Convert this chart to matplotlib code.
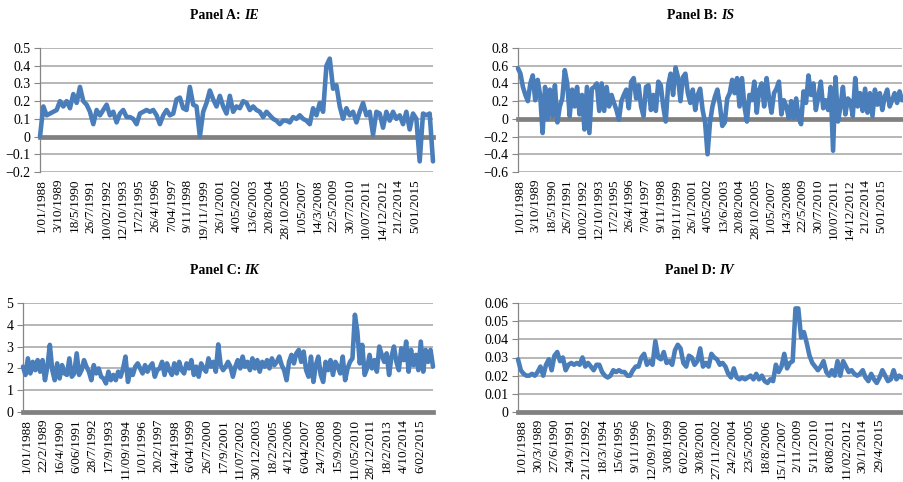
import numpy as np
import matplotlib.pyplot as plt

plt.rcParams["font.family"] = ["Liberation Serif", "DejaVu Serif"]

# series (one value per step along the x axis)
ie_values = [
    0.0, 0.17, 0.12, 0.13, 0.14, 0.15, 0.20, 0.17, 0.20, 0.16, 0.24, 0.19, 0.28, 0.20, 0.18,
    0.14, 0.07, 0.15, 0.12, 0.15, 0.18, 0.12, 0.14, 0.08, 0.13, 0.15, 0.11, 0.11, 0.10, 0.07,
    0.13, 0.14, 0.15, 0.14, 0.15, 0.12, 0.07, 0.12, 0.15, 0.12, 0.13, 0.21, 0.22, 0.16, 0.15,
    0.28, 0.18, 0.17, 0.0, 0.14, 0.19, 0.26, 0.21, 0.17, 0.23, 0.17, 0.13, 0.23, 0.14, 0.17,
    0.16, 0.20, 0.19, 0.15, 0.17, 0.15, 0.14, 0.11, 0.14, 0.12, 0.10, 0.09, 0.07, 0.09, 0.09,
    0.08, 0.11, 0.10, 0.12, 0.10, 0.09, 0.07, 0.16, 0.12, 0.19, 0.14, 0.40, 0.44, 0.27, 0.29,
    0.17, 0.10, 0.16, 0.12, 0.14, 0.08, 0.14, 0.19, 0.12, 0.14, 0.01, 0.14, 0.13, 0.05, 0.14,
    0.09, 0.14, 0.10, 0.12, 0.07, 0.14, 0.04, 0.13, 0.10, -0.14, 0.13, 0.12, 0.13, -0.14,
]
is_values = [
    0.57, 0.51, 0.36, 0.27, 0.20, 0.40, 0.49, 0.21, 0.44, 0.27, -0.16, 0.36, 0.00, 0.33, 0.03,
    0.38, -0.04, 0.14, 0.23, 0.55, 0.40, 0.03, 0.33, 0.14, 0.36, 0.05, 0.27, -0.12, 0.36, -0.16,
    0.34, 0.36, 0.40, 0.09, 0.40, 0.09, 0.36, 0.14, 0.27, 0.18, 0.10, -0.01, 0.20, 0.27, 0.33,
    0.12, 0.42, 0.46, 0.23, 0.38, 0.14, 0.03, 0.36, 0.38, 0.10, 0.27, 0.09, 0.42, 0.38, 0.14,
    -0.03, 0.38, 0.51, 0.27, 0.58, 0.47, 0.20, 0.47, 0.51, 0.29, 0.18, 0.33, 0.10, 0.27, 0.34,
    0.10, -0.04, -0.40, -0.04, 0.14, 0.25,
    0.33, 0.16, -0.08, -0.04, 0.23, 0.29, 0.44, 0.29, 0.46, 0.14, 0.46, 0.14, -0.03, 0.27, 0.21,
    0.42, 0.07, 0.33, 0.40, 0.14, 0.46, 0.23, 0.07, 0.29, 0.34, 0.42, 0.05, 0.21, 0.14, 0.01,
    0.20, 0.01, 0.23, 0.01, -0.06, 0.31, 0.18, 0.49, 0.27, 0.40, 0.10, 0.25, 0.42, 0.12, 0.21,
    0.10, 0.36, -0.36, 0.47, -0.03, 0.14, 0.36, 0.05, 0.23, 0.20, 0.03, 0.46, 0.14, 0.29, 0.09,
    0.34, 0.07, 0.29, 0.03, 0.33, 0.16, 0.29, 0.10, 0.25, 0.33, 0.14, 0.21, 0.29, 0.18, 0.31, 0.21,
]
ik_values = [
    2.08, 1.70, 2.46, 1.77, 2.30, 1.92, 2.38, 1.85, 2.38, 1.46, 2.08, 3.08, 1.92, 1.46, 2.23,
    1.54, 2.15, 1.77, 1.70, 2.46, 1.62, 1.77, 2.69, 1.70, 1.92, 2.38, 2.08, 1.85, 1.46, 2.15,
    1.77, 2.00, 1.62, 1.54, 1.31, 1.85, 1.46, 1.70, 1.46, 1.85, 1.62, 2.00, 2.54, 1.38, 1.92,
    1.70, 2.08, 2.23, 2.00, 1.77, 2.15, 1.85, 2.08, 2.23, 1.62, 1.92, 2.00, 2.30, 1.70, 2.23,
    1.92, 1.70, 2.23, 1.77, 2.30, 1.92, 1.77, 2.23, 2.00, 2.38, 1.70, 2.08, 1.62, 2.23, 2.00,
    1.85, 2.46, 2.08, 2.30, 1.85, 3.10, 2.15, 1.92, 2.08, 2.30, 2.08, 1.62, 2.08, 2.38, 2.00,
    2.54, 2.08, 2.30, 1.92, 2.46, 2.00, 2.38, 1.85, 2.30, 2.08, 2.38, 2.00, 2.46, 2.15, 2.30,
    2.54, 2.15, 1.92, 1.46, 2.30, 2.62, 2.23, 2.69, 2.85, 2.30, 2.77, 1.92, 1.62, 2.54, 1.38,
    2.15, 2.54, 1.70, 1.38, 2.30, 1.92, 2.38, 1.70, 2.30, 2.08, 1.77, 2.54, 1.46, 2.00, 2.30,
    2.46, 4.46, 3.69, 2.23, 3.08, 1.70, 2.00, 2.62, 2.00, 2.38, 1.85, 3.00, 2.62, 2.30, 2.69,
    1.70, 2.54, 3.00, 2.30, 1.92, 2.92, 2.38, 3.23, 1.85, 2.85, 2.15, 2.62, 1.92, 3.23, 1.85,
    2.85, 2.30, 2.85, 2.08,
]
iv_values = [
    0.029, 0.023, 0.021, 0.020, 0.020, 0.021, 0.020, 0.022, 0.025, 0.020, 0.026, 0.029, 0.023,
    0.031, 0.033, 0.028, 0.030, 0.023, 0.026, 0.027, 0.026, 0.027, 0.026, 0.030, 0.025, 0.027,
    0.025, 0.023, 0.026, 0.026, 0.022, 0.020, 0.019, 0.020, 0.023, 0.022, 0.023, 0.022, 0.022,
    0.020, 0.020, 0.023, 0.025, 0.025, 0.030, 0.032, 0.026, 0.028, 0.026, 0.039, 0.030, 0.029,
    0.033, 0.027, 0.028, 0.026, 0.034, 0.037, 0.035, 0.027, 0.025, 0.031, 0.030, 0.026, 0.028,
    0.035, 0.025, 0.027, 0.025, 0.032, 0.030, 0.029, 0.026, 0.027, 0.025, 0.021, 0.019, 0.024,
    0.019, 0.018, 0.019, 0.018, 0.019, 0.020, 0.018, 0.021, 0.018, 0.020, 0.017, 0.016, 0.018,
    0.017, 0.026, 0.022, 0.025, 0.032, 0.024, 0.027, 0.028, 0.057, 0.057, 0.041, 0.044, 0.038,
    0.031, 0.027, 0.025, 0.023, 0.025, 0.028, 0.022, 0.020, 0.023, 0.020, 0.028, 0.020, 0.028,
    0.025, 0.022, 0.023, 0.021, 0.020, 0.021, 0.023, 0.019, 0.017, 0.021, 0.018, 0.016, 0.019,
    0.023, 0.020, 0.017, 0.018, 0.023, 0.018, 0.020, 0.019,
]

labels_ab = [
    "1/01/1988", "3/10/1989", "18/5/1990", "26/7/1991", "10/02/1992", "12/10/1993",
    "17/2/1995", "26/4/1996", "7/04/1997", "9/11/1998", "19/11/1999", "26/1/2001",
    "4/05/2002", "13/6/2003", "20/8/2004", "28/10/2005", "1/05/2007", "14/3/2008",
    "22/5/2009", "30/7/2010", "10/07/2011", "14/12/2012", "21/2/2014", "5/01/2015",
]
labels_c = [
    "1/01/1988", "22/2/1989", "16/4/1990", "6/06/1991", "28/7/1992", "17/9/1993",
    "11/09/1994", "1/01/1996", "20/2/1997", "14/4/1998", "6/04/1999", "26/7/2000",
    "17/9/2001", "11/07/2002", "30/12/2003", "18/2/2005", "4/12/2006", "6/04/2007",
    "24/7/2008", "15/9/2009", "11/05/2010", "28/12/2011", "18/2/2013", "4/10/2014",
    "6/02/2015",
]
labels_d = [
    "1/01/1988", "30/3/1989", "27/6/1990", "24/9/1991", "21/12/1992", "18/3/1994",
    "15/6/1995", "9/11/1996", "12/09/1997", "3/08/1999", "6/02/2000", "30/8/2001",
    "27/11/2002", "24/2/2004", "23/5/2005", "18/8/2006", "15/11/2007", "2/11/2009",
    "5/11/2010", "8/08/2011", "11/02/2012", "30/1/2014", "29/4/2015",
]

ie_yticks = [-0.2, -0.1, 0, 0.1, 0.2, 0.3, 0.4, 0.5]
ie_ylabels = ["\u22120.2", "\u22120.1", "0", "0.1", "0.2", "0.3", "0.4", "0.5"]
is_yticks = [-0.6, -0.4, -0.2, 0, 0.2, 0.4, 0.6, 0.8]
is_ylabels = ["\u22120.6", "\u22120.4", "\u22120.2", "0", "0.2", "0.4", "0.6", "0.8"]
ik_yticks = [0, 1, 2, 3, 4, 5]
ik_ylabels = ["0", "1", "2", "3", "4", "5"]
iv_yticks = [0, 0.01, 0.02, 0.03, 0.04, 0.05, 0.06]
iv_ylabels = ["0", "0.01", "0.02", "0.03", "0.04", "0.05", "0.06"]

panel_names = ["Panel A:", "Panel B:", "Panel C:", "Panel D:"]
series_names = ["IE", "IS", "IK", "IV"]

LINE_COLOR = "#4a7ebb"
GRID_COLOR = "#a3a3a3"
AXIS_COLOR = "#868686"

W, H = 904, 482


def px_axes(left, top, right, bottom):
    return [left / W, 1 - bottom / H, (right - left) / W, (bottom - top) / H]


def draw_panel(ax, values, yticks, ylabels, xlabels, first, last):
    x = np.linspace(0, 1, len(values))
    ax.plot(x, values, color=LINE_COLOR, lw=3.3, solid_joinstyle="round",
            solid_capstyle="round", zorder=3, clip_on=False)
    ax.set_xlim(0, 1)
    ax.set_ylim(yticks[0], yticks[-1])
    ax.set_yticks(yticks)
    ax.set_yticklabels(ylabels, fontsize=10)
    ax.set_xticks(np.linspace(first, last, len(xlabels)))
    ax.set_xticklabels(xlabels, rotation=90, fontsize=9.5)
    ax.tick_params(axis="x", length=0, pad=5)
    ax.tick_params(axis="y", length=4, width=0.8, color=AXIS_COLOR, pad=3)
    ax.grid(axis="y", color=GRID_COLOR, lw=1.1)
    ax.set_axisbelow(True)
    ax.axhline(0, color="#808080", lw=3.4, zorder=2, clip_on=False)
    for side in ["top", "right", "bottom"]:
        ax.spines[side].set_visible(False)
    ax.spines["left"].set_color(AXIS_COLOR)
    ax.spines["left"].set_linewidth(0.9)


fig = plt.figure(figsize=(W / 100, H / 100), dpi=100)

ax_a = fig.add_axes(px_axes(40, 48, 433, 172))
ax_b = fig.add_axes(px_axes(518, 48, 902, 172))
ax_c = fig.add_axes(px_axes(23, 303, 433, 412))
ax_d = fig.add_axes(px_axes(518, 303, 902, 412))

draw_panel(ax_a, ie_values, ie_yticks, ie_ylabels, labels_ab, 0.005, 0.954)
draw_panel(ax_b, is_values, is_yticks, is_ylabels, labels_ab, 0.005, 0.945)
draw_panel(ax_c, ik_values, ik_yticks, ik_ylabels, labels_c, 0.01, 0.968)
draw_panel(ax_d, iv_values, iv_yticks, iv_ylabels, labels_d, 0.01, 0.94)

# titles: bold "Panel X:" plus bold italic series name
title_spots = [(241, 15.5), (718, 15.5), (241, 270.5), (716, 270.5)]
for (tx, ty), name, series in zip(title_spots, panel_names, series_names):
    fig.text(tx / W, 1 - ty / H, name, ha="right", va="center",
             fontsize=10, fontweight="bold")
    fig.text((tx + 3) / W, 1 - ty / H, series, ha="left", va="center",
             fontsize=10, fontweight="bold", fontstyle="italic")

fig.savefig("out.png", dpi=100)
